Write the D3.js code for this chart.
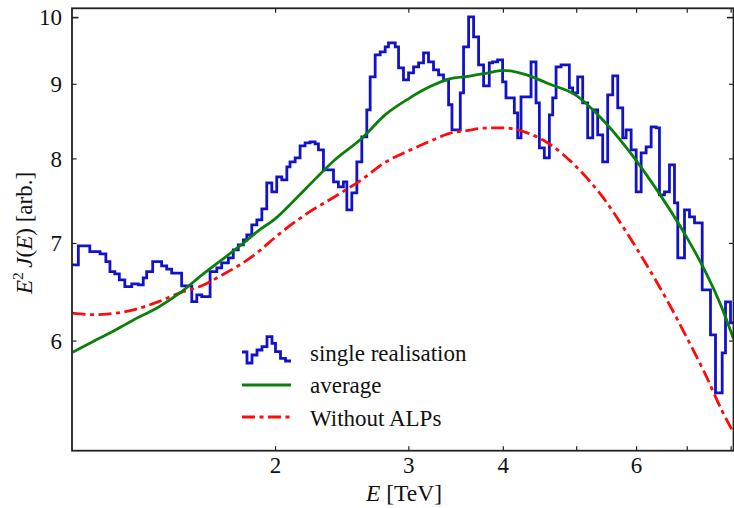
<!DOCTYPE html>
<html>
<head>
<meta charset="utf-8">
<script src="https://cdn.jsdelivr.net/npm/d3@7"></script>
<style>
  html, body { margin: 0; padding: 0; background: #fff; }
  svg { display: block; font-family: "Liberation Serif", "DejaVu Serif", serif; }
</style>
</head>
<body>
<svg id="chart" width="734" height="508"></svg>
<script>
// ---------------- data ----------------
const xDomain = [1.078, 8.07];           // E [TeV]
const yDomain = [5.042, 10.14];          // E^2 J(E) [arb.]

const xTickValues = [2, 3, 4, 5, 6, 7, 8];
const xTickLabels = ["2", "3", "4", "", "6", "", ""];
const yTickValues = [6, 7, 8, 9, 10];
const yTickLabels = ["6", "7", "8", "9", "10"];

// single realisation: left bin edges (TeV) and bin contents
const histE = [1.078,1.099,1.138,1.174,1.195,1.210,1.228,1.245,1.266,1.293,1.319,1.339,1.353,1.378,1.416,1.438,1.460,1.505,1.552,1.576,1.600,1.641,1.675,1.700,1.735,1.761,1.788,1.816,1.835,1.863,1.892,1.921,1.950,1.980,2.010,2.041,2.073,2.093,2.126,2.158,2.191,2.225,2.259,2.282,2.317,2.389,2.425,2.462,2.488,2.526,2.565,2.604,2.644,2.671,2.712,2.754,2.796,2.824,2.883,2.912,2.956,3.002,3.048,3.095,3.142,3.190,3.239,3.289,3.339,3.391,3.426,3.514,3.549,3.604,3.659,3.715,3.772,3.838,3.877,3.936,3.997,4.038,4.142,4.184,4.227,4.358,4.425,4.470,4.538,4.608,4.655,4.703,4.775,4.897,4.947,5.023,5.100,5.178,5.258,5.338,5.420,5.503,5.588,5.674,5.761,5.820,5.910,6.001,6.093,6.186,6.281,6.377,6.442,6.541,6.641,6.743,6.811,6.952,7.058,7.167,7.337,7.524,7.640,7.797,7.876,7.997];
const histV = [6.762,6.968,6.905,6.880,6.797,6.691,6.667,6.604,6.534,6.562,6.551,6.625,6.691,6.797,6.751,6.716,6.674,6.541,6.381,6.449,6.431,6.691,6.730,6.783,6.837,6.924,6.979,7.034,7.090,7.203,7.260,7.388,7.697,7.588,7.770,7.733,7.894,7.957,8.007,8.160,8.199,8.212,8.186,8.109,7.857,7.709,7.649,7.709,7.375,7.577,7.957,8.277,8.638,9.100,9.422,9.467,9.542,9.602,9.542,9.230,9.057,9.158,9.245,9.304,9.452,9.318,9.201,9.128,9.057,8.707,8.369,8.873,9.542,10.005,9.694,9.274,8.972,9.304,9.318,9.348,9.028,8.803,8.597,8.264,8.817,9.318,8.734,8.134,8.007,8.570,8.803,9.245,9.274,8.943,8.873,9.100,8.734,8.264,8.638,8.304,7.957,8.845,9.115,8.665,8.264,8.369,8.109,7.588,8.070,8.147,8.409,8.395,7.553,7.588,7.919,7.457,6.837,7.375,7.294,7.226,6.500,6.054,5.524,5.884,6.378,6.170];
const histEnd = 8.07;

// average and no-ALP curves
const curveE = [1.08,1.15,1.2,1.3,1.4,1.5,1.6,1.7,1.8,1.9,2.0,2.2,2.4,2.6,2.8,3.0,3.2,3.4,3.6,3.8,4.0,4.3,4.6,5.0,5.4,5.8,6.2,6.6,7.0,7.4,7.8,8.07];
const averageV = [5.891,5.992,6.059,6.199,6.322,6.474,6.653,6.815,6.973,7.135,7.272,7.636,7.982,8.251,8.576,8.789,8.957,9.071,9.107,9.150,9.194,9.128,9.000,8.838,8.520,8.160,7.789,7.422,7.062,6.698,6.308,6.016];
const noAlpV = [6.265,6.250,6.256,6.298,6.378,6.472,6.543,6.652,6.766,6.902,7.062,7.329,7.533,7.733,7.954,8.096,8.216,8.322,8.363,8.393,8.395,8.332,8.190,7.896,7.545,7.146,6.757,6.388,6.029,5.694,5.365,5.188];

const legendLabels = ["single realisation", "average", "Without ALPs"];
const colors = { hist: "#1212c8", avg: "#0a800a", noalp: "#ff0a0a" };

// ---------------- layout ----------------
const W = 734, H = 508;
const plot = { left: 72, right: 733.5, top: 8.3, bottom: 450.7 };

const svg = d3.select("#chart");
const x = d3.scaleLog().domain(xDomain).range([plot.left, plot.right]);
const y = d3.scaleLog().domain(yDomain).range([plot.bottom, plot.top]);

svg.append("defs").append("clipPath").attr("id", "clip")
  .append("rect").attr("x", plot.left).attr("y", plot.top)
  .attr("width", plot.right - plot.left).attr("height", plot.bottom - plot.top);

const g = svg.append("g").attr("clip-path", "url(#clip)");
const LW = 2.8;

// histogram
const histPts = histE.map((e, i) => [e, histV[i]]);
histPts.push([histEnd, histV[histV.length - 1]]);
g.append("path").datum(histPts)
  .attr("fill", "none").attr("stroke", colors.hist).attr("stroke-width", LW)
  .attr("stroke-linejoin", "miter")
  .attr("d", d3.line().x(d => x(d[0])).y(d => y(d[1])).curve(d3.curveStepAfter));

// no ALPs
g.append("path").datum(curveE.map((e, i) => [e, noAlpV[i]]))
  .attr("fill", "none").attr("stroke", colors.noalp).attr("stroke-width", LW)
  .attr("stroke-dasharray", "13,4.5,4,4.5")
  .attr("d", d3.line().x(d => x(d[0])).y(d => y(d[1])).curve(d3.curveMonotoneX));

// average
g.append("path").datum(curveE.map((e, i) => [e, averageV[i]]))
  .attr("fill", "none").attr("stroke", colors.avg).attr("stroke-width", LW)
  .attr("d", d3.line().x(d => x(d[0])).y(d => y(d[1])).curve(d3.curveMonotoneX));

// ---------------- axes ----------------
const axisColor = "#222";
const tickFont = 23;

// bottom
const xb = svg.append("g").attr("transform", `translate(0,${plot.bottom})`)
  .call(d3.axisBottom(x).tickValues(xTickValues).tickSize(-4.5).tickPadding(6)
        .tickFormat((d, i) => xTickLabels[i]));
// top
const xt = svg.append("g").attr("transform", `translate(0,${plot.top})`)
  .call(d3.axisTop(x).tickValues(xTickValues).tickSize(-4.5).tickFormat(""));
// left
const yl = svg.append("g").attr("transform", `translate(${plot.left},0)`)
  .call(d3.axisLeft(y).tickValues(yTickValues).tickSizeInner(-4.5).tickSizeOuter(0).tickPadding(10)
        .tickFormat((d, i) => yTickLabels[i]));
// right
const yr = svg.append("g").attr("transform", `translate(${plot.right},0)`)
  .call(d3.axisRight(y).tickValues(yTickValues).tickSizeInner(-4.5).tickSizeOuter(0).tickFormat(""));

[xb, xt, yl, yr].forEach(a => {
  a.select(".domain").remove();
  a.selectAll(".tick line").attr("stroke", axisColor).attr("stroke-width", 1.2);
  a.selectAll("text").attr("font-family", "Liberation Serif, serif")
    .attr("font-size", tickFont).attr("fill", "#111");
});
// longer major tick at 10
yl.selectAll(".tick").filter(d => d === 10).select("line").attr("x2", 6.5).attr("stroke-width", 1.6);
yr.selectAll(".tick").filter(d => d === 10).select("line").attr("x2", -6.5).attr("stroke-width", 1.6);
yl.selectAll(".tick text").attr("dy", "0.34em");

// frame
svg.append("rect").attr("x", plot.left).attr("y", plot.top)
  .attr("width", plot.right - plot.left).attr("height", plot.bottom - plot.top)
  .attr("fill", "none").attr("stroke", axisColor).attr("stroke-width", 1.8);

// axis titles
const xTitle = svg.append("text").attr("x", 404).attr("y", 501)
  .attr("text-anchor", "middle").attr("font-size", 23.5).attr("fill", "#111");
xTitle.append("tspan").attr("font-style", "italic").text("E");
xTitle.append("tspan").text(" [TeV]");

const yTitle = svg.append("text").attr("transform", "translate(32,233) rotate(-90)")
  .attr("text-anchor", "middle").attr("font-size", 23).attr("fill", "#111");
yTitle.append("tspan").attr("font-style", "italic").text("E");
yTitle.append("tspan").attr("font-size", 15.5).attr("dy", -9).text("2");
yTitle.append("tspan").attr("font-style", "italic").attr("dy", 9).text("\u2009J");
yTitle.append("tspan").text("(");
yTitle.append("tspan").attr("font-style", "italic").text("E");
yTitle.append("tspan").text(") [arb.]");

// ---------------- legend ----------------
const lg = svg.append("g");
const iconX0 = 242, iconX1 = 291;
// histogram-like icon
const iconPts = [[0,352],[5,363],[10,355],[15,350],[20,346.7],[25,336.7],[30,343.3],[33.5,351.7],[38.5,358.3],[43.5,361],[49,361]];
lg.append("path").datum(iconPts)
  .attr("fill", "none").attr("stroke", colors.hist).attr("stroke-width", LW)
  .attr("d", d3.line().x(d => iconX0 + d[0]).y(d => d[1]).curve(d3.curveStepAfter));
lg.append("line").attr("x1", iconX0).attr("x2", iconX1).attr("y1", 385).attr("y2", 385)
  .attr("stroke", colors.avg).attr("stroke-width", LW);
lg.append("line").attr("x1", iconX0).attr("x2", iconX1).attr("y1", 417).attr("y2", 417)
  .attr("stroke", colors.noalp).attr("stroke-width", LW).attr("stroke-dasharray", "13,4.5,4,4.5");
const ly = [361, 393, 426];
legendLabels.forEach((t, i) => {
  lg.append("text").attr("x", 310).attr("y", ly[i]).attr("font-size", 23).attr("fill", "#111").text(t);
});
</script>
</body>
</html>
